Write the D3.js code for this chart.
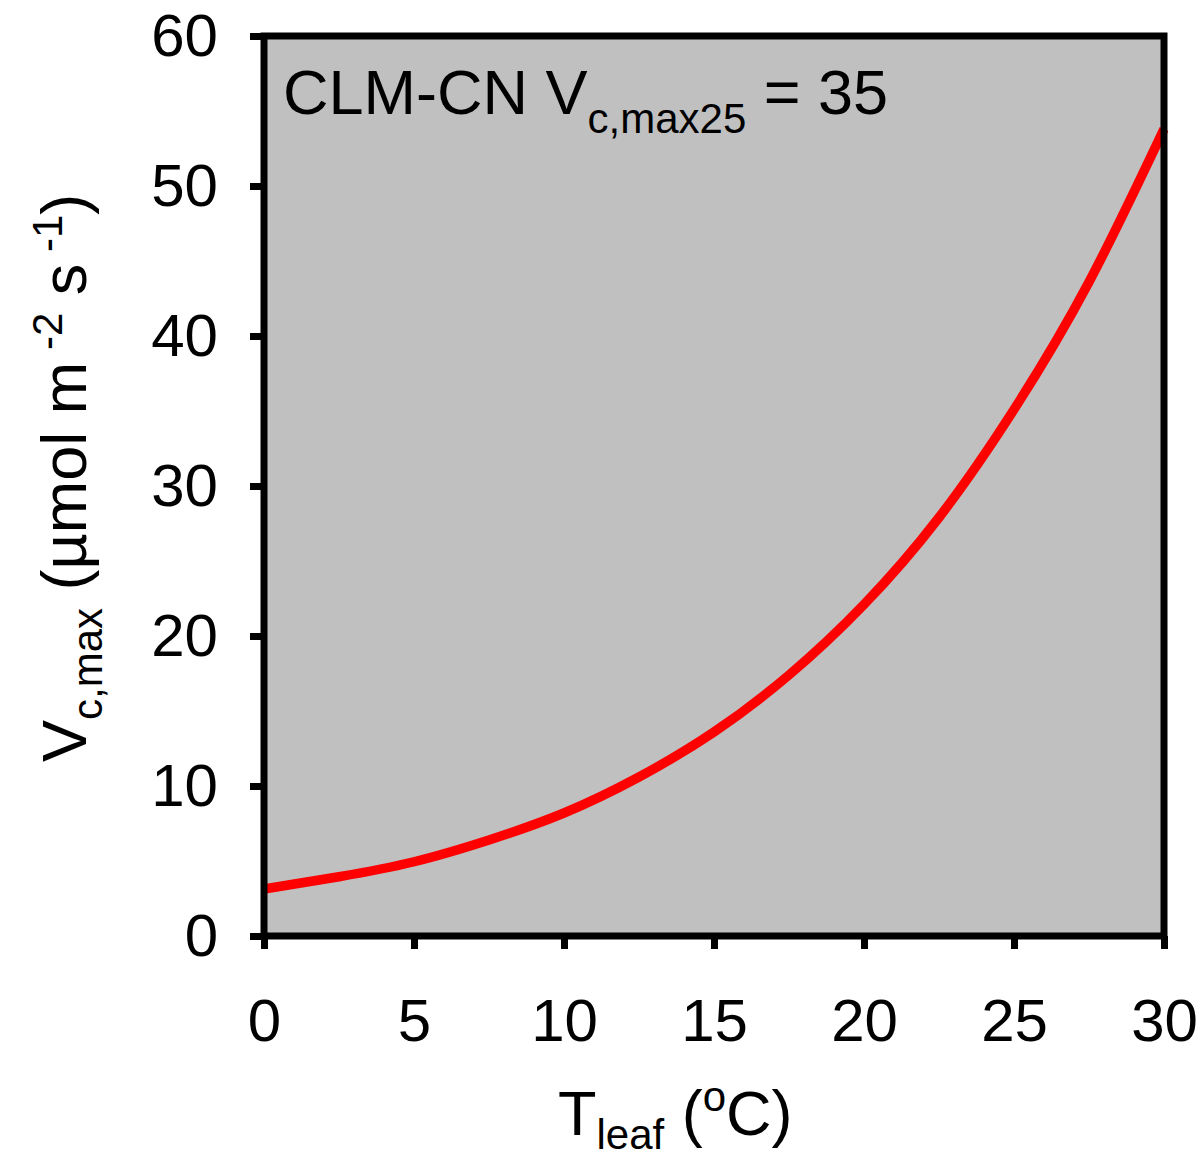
<!DOCTYPE html>
<html>
<head>
<meta charset="utf-8">
<script src="https://cdn.jsdelivr.net/npm/d3@7"></script>
<style>
  html, body { margin: 0; padding: 0; background: #ffffff; }
  svg { display: block; }
  text { font-family: "Liberation Sans", Arial, sans-serif; fill: #000; }
</style>
</head>
<body>
<svg id="chart" width="1202" height="1159"></svg>
<script>
// Data
const tleaf = [0, 2.5, 5, 7.5, 10, 12.5, 15, 17.5, 20, 22.5, 25, 27.5, 30];
const vcmax = [3.13, 3.95, 4.95, 6.4, 8.2, 10.6, 13.6, 17.4, 22.1, 27.9, 35.1, 43.6, 53.8];
const xTicks = [0, 5, 10, 15, 20, 25, 30];
const yTicks = [0, 10, 20, 30, 40, 50, 60];

const svg = d3.select("#chart");
const m = { left: 264, right: 1164, top: 36, bottom: 936 };

const x = d3.scaleLinear().domain([0, 30]).range([m.left, m.right]);
const y = d3.scaleLinear().domain([0, 60]).range([m.bottom, m.top]);

// plot background
svg.append("rect")
  .attr("x", m.left).attr("y", m.top)
  .attr("width", m.right - m.left).attr("height", m.bottom - m.top)
  .attr("fill", "#c0c0c0");

// curve
const line = d3.line()
  .x((d, i) => x(tleaf[i]))
  .y(d => y(d))
  .curve(d3.curveNatural);

svg.append("path")
  .datum(vcmax)
  .attr("d", line)
  .attr("fill", "none")
  .attr("stroke", "#ff0000")
  .attr("stroke-width", 9.5);

// frame
svg.append("rect")
  .attr("x", m.left).attr("y", m.top)
  .attr("width", m.right - m.left).attr("height", m.bottom - m.top)
  .attr("fill", "none")
  .attr("stroke", "#000")
  .attr("stroke-width", 7);

// axes
const yAxis = d3.axisLeft(y).tickValues(yTicks).tickSize(14).tickSizeOuter(0).tickPadding(32);
const gy = svg.append("g").attr("transform", `translate(${m.left},0)`).call(yAxis);
const xAxis = d3.axisBottom(x).tickValues(xTicks).tickSize(13).tickSizeOuter(0).tickPadding(49);
const gx = svg.append("g").attr("transform", `translate(0,${m.bottom})`).call(xAxis);

[gy, gx].forEach(g => {
  g.select(".domain").remove();
  g.selectAll(".tick line").attr("stroke", "#000").attr("stroke-width", 7);
  g.selectAll(".tick text")
    .attr("font-family", '"Liberation Sans", Arial, sans-serif')
    .attr("font-size", 60)
    .attr("fill", "#000");
});

// inside label
const lab = svg.append("text")
  .attr("x", 283).attr("y", 114)
  .attr("font-size", 63);
lab.append("tspan").text("CLM-CN V");
lab.append("tspan").attr("font-size", 42).attr("dy", 19).text("c,max25");
lab.append("tspan").attr("dy", -19).text(" = 35");

// x-axis title
const xt = svg.append("text")
  .attr("x", 558).attr("y", 1135)
  .attr("font-size", 63);
xt.append("tspan").text("T");
xt.append("tspan").attr("font-size", 42).attr("dy", 14).text("leaf");
xt.append("tspan").attr("dy", -14).text(" (");
xt.append("tspan").attr("font-size", 42).attr("dy", -24).text("o");
xt.append("tspan").attr("dy", 24).text("C)");

// y-axis title
const yt = svg.append("text")
  .attr("transform", "translate(86,762) rotate(-90)")
  .attr("font-size", 63);
yt.append("tspan").text("V");
yt.append("tspan").attr("font-size", 42).attr("dy", 16).text("c,max");
yt.append("tspan").attr("dy", -16).text(" (µmol m");
yt.append("tspan").attr("font-size", 42).attr("dy", -24).text(" -2");
yt.append("tspan").attr("dy", 24).text(" s");
yt.append("tspan").attr("font-size", 42).attr("dy", -24).text(" -1");
yt.append("tspan").attr("dy", 24).text(")");
</script>
</body>
</html>
